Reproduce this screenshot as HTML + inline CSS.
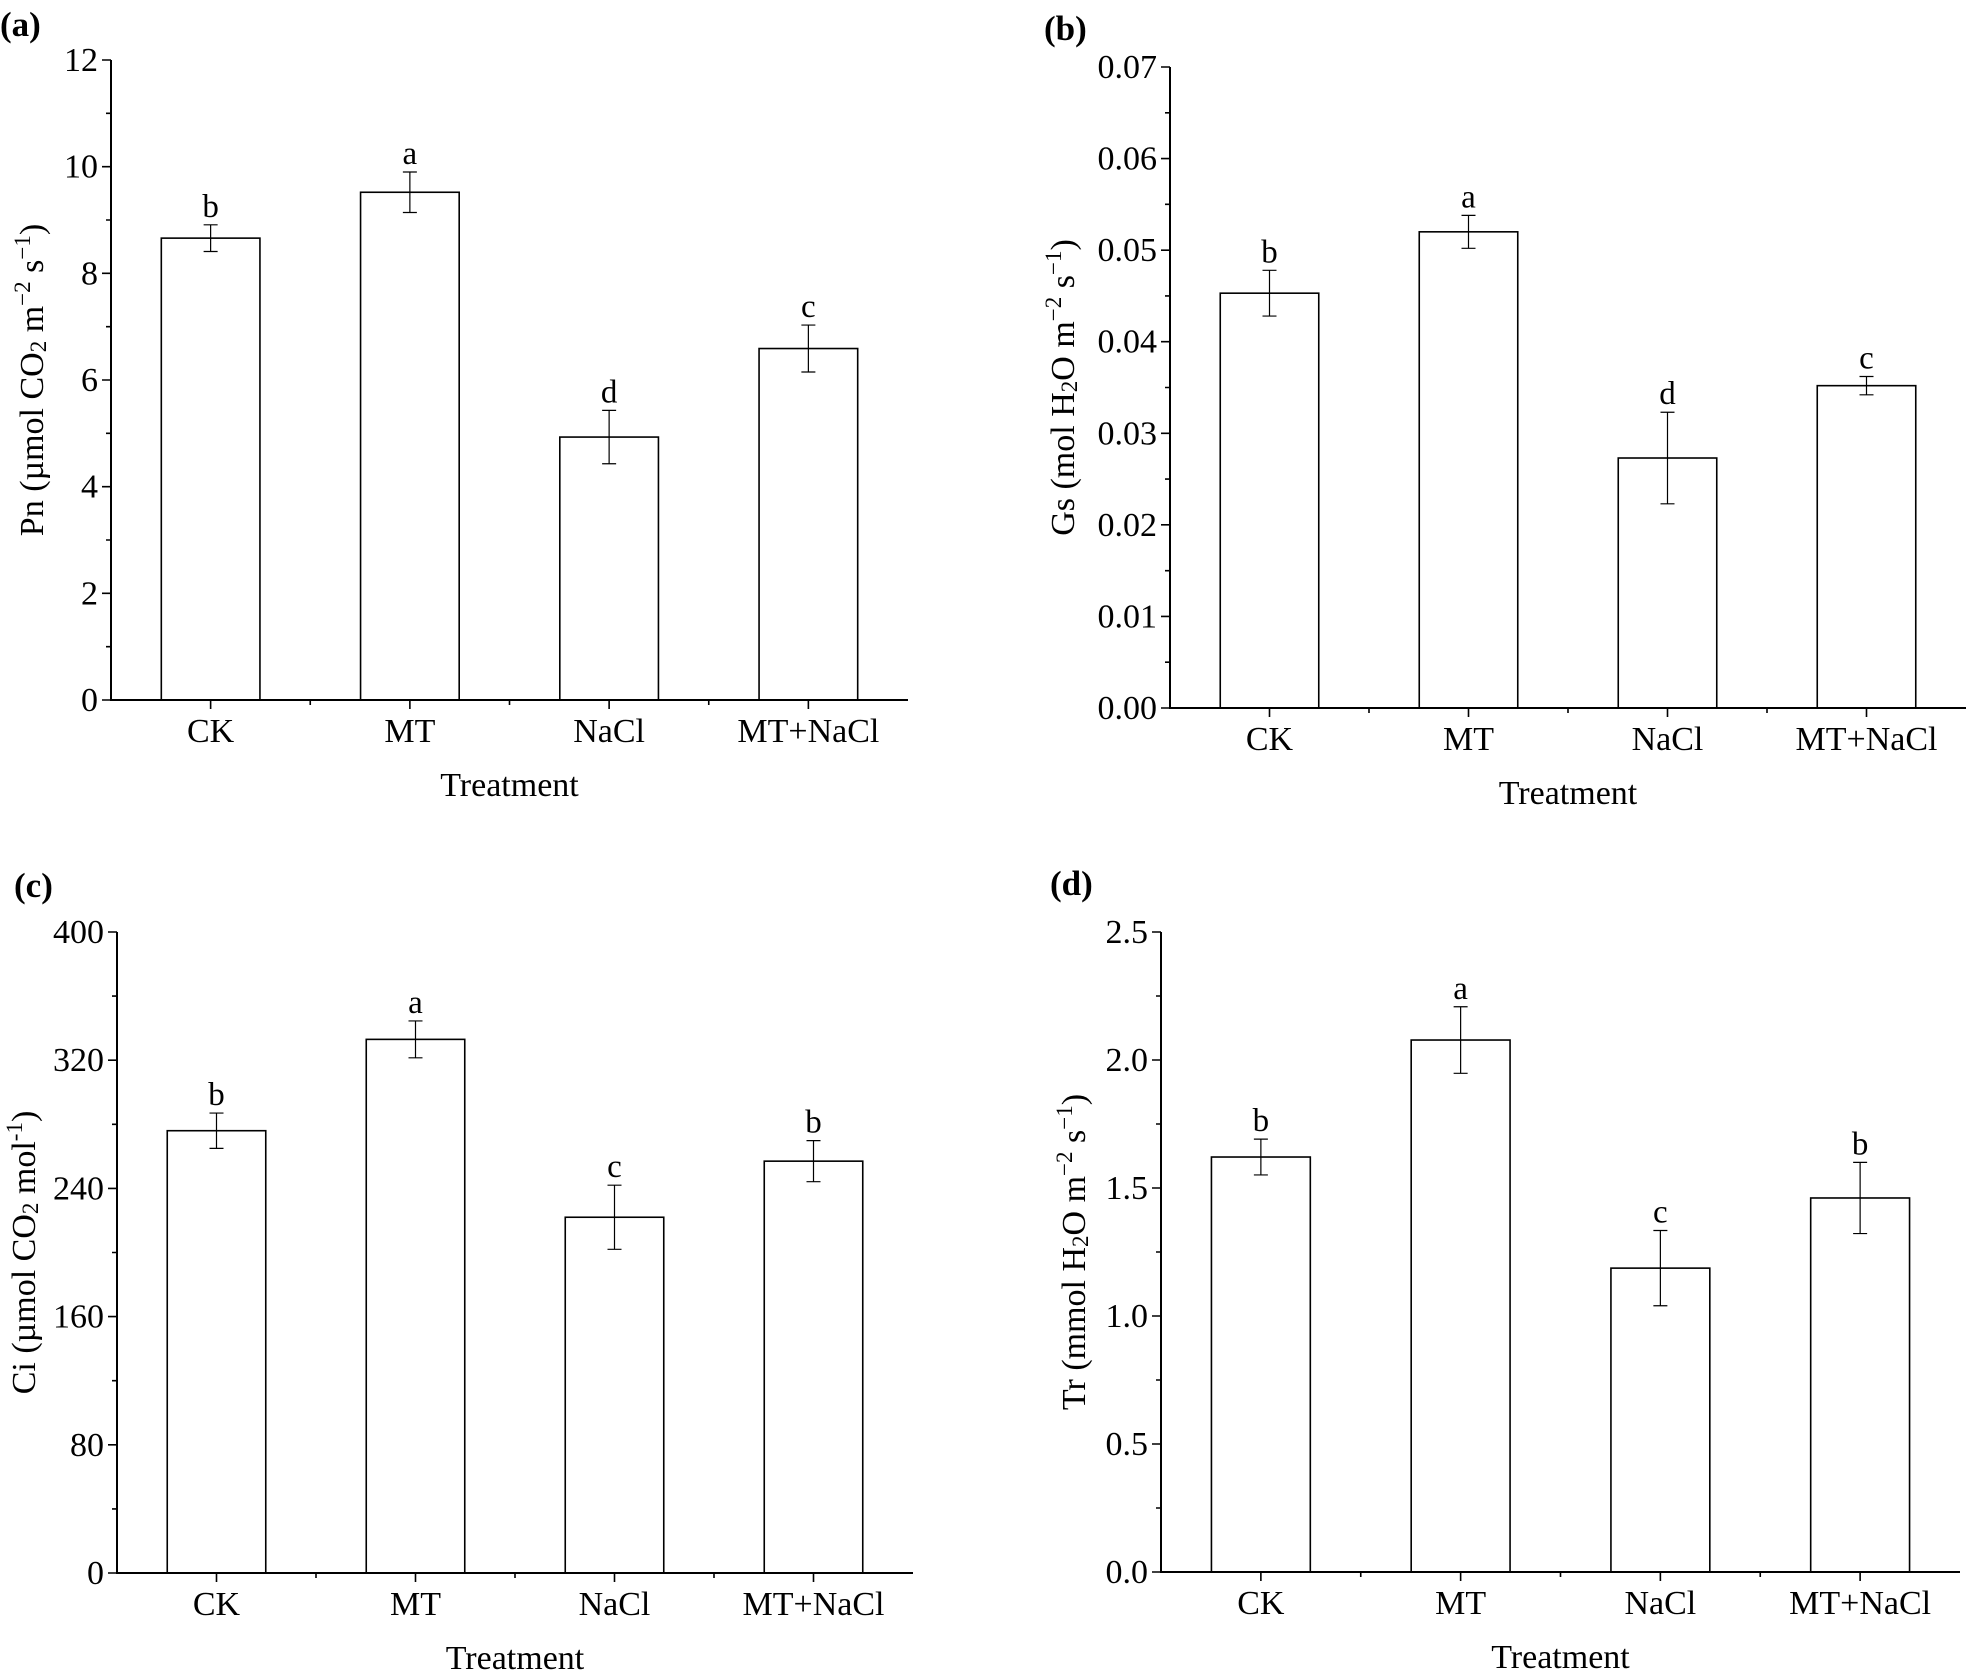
<!DOCTYPE html>
<html><head><meta charset="utf-8">
<style>
html,body{margin:0;padding:0;background:#fff;}
svg{display:block;font-family:"Liberation Serif",serif;}
</style></head>
<body>
<svg id="fig" width="1968" height="1678" viewBox="0 0 1968 1678" xmlns="http://www.w3.org/2000/svg"></svg>
<script>
const categories = ["CK","MT","NaCl","MT+NaCl"];
const pnValues = [8.66, 9.52, 4.93, 6.59];
const pnErrors = [0.25, 0.38, 0.50, 0.44];
const pnLetters = ["b","a","d","c"];
const pnTicks = [0,2,4,6,8,10,12];
const gsValues = [0.0453, 0.0520, 0.0273, 0.0352];
const gsErrors = [0.0025, 0.0018, 0.0050, 0.0010];
const gsLetters = ["b","a","d","c"];
const gsTicks = ["0.00","0.01","0.02","0.03","0.04","0.05","0.06","0.07"];
const ciValues = [276, 333, 222, 257];
const ciErrors = [11, 11.5, 20, 12.8];
const ciLetters = ["b","a","c","b"];
const ciTicks = [0,80,160,240,320,400];
const trValues = [1.621, 2.078, 1.187, 1.461];
const trErrors = [0.07, 0.13, 0.147, 0.139];
const trLetters = ["b","a","c","b"];
const trTicks = ["0.0","0.5","1.0","1.5","2.0","2.5"];

const NS = "http://www.w3.org/2000/svg";
const svg = document.getElementById('fig');
function el(tag, attrs, parent, text){
  const e = document.createElementNS(NS, tag);
  for (const k in attrs) e.setAttribute(k, attrs[k]);
  if (text !== undefined) e.textContent = text;
  (parent||svg).appendChild(e);
  return e;
}

function drawPanel(cfg){
  const g = el('g', {});
  
  
  const {x0,x1,y0,y1} = cfg;
  const ticks = cfg.ticks.map(Number);
  const vmin = ticks[0], vmax = ticks[ticks.length-1];
  const ys = v => y0 - (v - vmin)/(vmax - vmin)*(y0 - y1);
  const n = categories.length;
  const step = (x1 - x0)/n;
  const xc = i => x0 + (i+0.5)*step;
  const bw = step*0.495;

  const pl = el('text', {x:cfg.lx, y:cfg.ly, 'font-size':35, 'font-weight':'bold'}, g, cfg.label);
  
  

  for (let i=0;i<n;i++){
    const v = cfg.values[i], e = cfg.errors[i];
    const r = el('rect', {x:xc(i)-bw/2, y:ys(v), width:bw, height:y0-ys(v), fill:'#fff', stroke:'#000', 'stroke-width':1.6}, g);
    
    
    const eb = el('path', {d:`M${xc(i)},${ys(v+e)}V${ys(v-e)}M${xc(i)-7},${ys(v+e)}H${xc(i)+7}M${xc(i)-7},${ys(v-e)}H${xc(i)+7}`, stroke:'#000', 'stroke-width':1.2, fill:'none'}, g);
    
    
    const lt = el('text', {x:xc(i), y:ys(v+e)-8, 'font-size':33, 'text-anchor':'middle'}, g, cfg.letters[i]);
    
    
  }

  const ax = el('path', {d:`M${x0},${y1}V${y0}H${x1}`, stroke:'#000', 'stroke-width':2, fill:'none'}, g);
  
  

  let d = '';
  for (let k=0;k<ticks.length;k++){
    const y = ys(ticks[k]);
    d += `M${x0-9},${y}H${x0}`;
    if (k < ticks.length-1){ const ym = ys((ticks[k]+ticks[k+1])/2); d += `M${x0-5},${ym}H${x0}`; }
    const t = el('text', {x:x0-13, y:y+11, 'font-size':34, 'text-anchor':'end'}, g, String(cfg.ticks[k]));
    
    
  }
  for (let i=0;i<n;i++){
    d += `M${xc(i)},${y0}V${y0+9}`;
    if (i>0) d += `M${x0+i*step},${y0}V${y0+5}`;
    const t = el('text', {x:xc(i), y:y0+42, 'font-size':34, 'text-anchor':'middle'}, g, categories[i]);
    
    
  }
  const tk = el('path', {d:d, stroke:'#000', 'stroke-width':1.6, fill:'none'}, g);
  
  

  const xt = el('text', {x:(x0+x1)/2, y:y0+96, 'font-size':34, 'text-anchor':'middle'}, g, 'Treatment');
  
  

  const tx = x0 - cfg.toff, ty = (y0+y1)/2;
  const yt = el('text', {x:tx, y:ty, 'font-size':34, 'text-anchor':'middle', transform:`rotate(-90 ${tx} ${ty})`, 'dominant-baseline':'middle'}, g);
  
  
  cfg.title.forEach(p => {
    const a = {};
    if (p[1]==='sub') {a['baseline-shift']='-25%'; a['font-size']=23;}
    if (p[1]==='sup') {a['baseline-shift']='45%'; a['font-size']=23;}
    el('tspan', a, yt, p[0]);
  });
}

drawPanel({id:'pn', label:'(a)', lx:0, ly:36, x0:111, x1:908, y0:700, y1:60, ticks:pnTicks, values:pnValues, errors:pnErrors, letters:pnLetters, toff:76,
  title:[["Pn (\u00b5mol CO"],["2",'sub'],[" m"],["\u22122",'sup'],[" s"],["\u22121",'sup'],[")"]]});
drawPanel({id:'gs', label:'(b)', lx:1044, ly:40, x0:1170, x1:1966, y0:708, y1:67, ticks:gsTicks, values:gsValues, errors:gsErrors, letters:gsLetters, toff:104,
  title:[["Gs (mol H"],["2",'sub'],["O m"],["\u22122",'sup'],[" s"],["\u22121",'sup'],[")"]]});
drawPanel({id:'ci', label:'(c)', lx:14, ly:897, x0:117, x1:913, y0:1573, y1:932, ticks:ciTicks, values:ciValues, errors:ciErrors, letters:ciLetters, toff:90,
  title:[["Ci (\u00b5mol CO"],["2",'sub'],[" mol"],["-1",'sup'],[")"]]});
drawPanel({id:'tr', label:'(d)', lx:1050, ly:895, x0:1161, x1:1960, y0:1572, y1:932, ticks:trTicks, values:trValues, errors:trErrors, letters:trLetters, toff:84,
  title:[["Tr (mmol H"],["2",'sub'],["O m"],["\u22122",'sup'],[" s"],["\u22121",'sup'],[")"]]});
</script>
</body></html>
